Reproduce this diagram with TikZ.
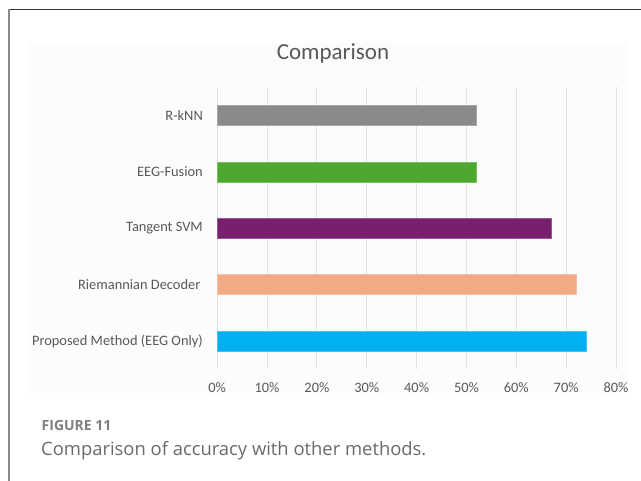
\documentclass[tikz,border=0pt]{standalone}
\usepackage{fontspec}
\setmainfont{Carlito}
\newfontfamily\capfont{Open Sans}
\definecolor{chartbg}{HTML}{FCFCFC}
\definecolor{gridc}{HTML}{E2E2E2}
\definecolor{txtc}{HTML}{595959}
\definecolor{capc}{HTML}{6A6A6A}
\definecolor{figc}{HTML}{7F7F7F}
\definecolor{topline}{HTML}{333333}
\definecolor{sideline}{HTML}{8A8A8A}
\definecolor{barGray}{HTML}{8A8A8A}
\definecolor{barGreen}{HTML}{4EA72E}
\definecolor{barPurple}{HTML}{78206E}
\definecolor{barPeach}{HTML}{F2AA84}
\definecolor{barBlue}{HTML}{00B0F0}
\tikzset{
  gridline/.style={draw=gridc, line width=1pt},
  ticklabel/.style={text=txtc, font=\fontsize{14.4}{16}\selectfont, inner sep=0pt},
  catlabel/.style={text=txtc, font=\fontsize{14.4}{16}\selectfont, inner sep=0pt, anchor=east},
  charttitle/.style={text=txtc, font=\fontsize{23}{26}\selectfont, inner sep=0pt},
  barbox/.style={minimum height=20pt, inner sep=0pt, outer sep=0pt, anchor=west, line width=0.7pt},
  figlabel/.style={text=figc, font=\capfont\bfseries\fontsize{14}{16}\selectfont, inner sep=0pt, anchor=base west},
  captext/.style={text=capc, font=\capfont\fontsize{18.4}{22}\selectfont, inner sep=0pt, anchor=base west},
}
\begin{document}
\begin{tikzpicture}[x=1pt, y=-1pt]
\useasboundingbox (0,0) rectangle (641,481);
\fill[white] (0,0) rectangle (641,481);
% frame lines
\draw[topline, line width=1.3pt] (8,9.3) -- (641,9.3);
\draw[sideline, line width=2pt] (8.7,9.3) -- (8.7,481);
% chart area
\fill[chartbg] (29,43) rectangle (628,393);
\node[charttitle] (title) at (333,53) {Comparison};
% vertical grid and axis labels
\foreach \i in {0,...,8} {
  \pgfmathsetmacro\gx{217.2+49.85*\i}
  \coordinate (g\i top) at (\gx,87);
  \coordinate (g\i bot) at (\gx,369);
  \draw[gridline] (g\i top) -- (g\i bot);
  \node[ticklabel] (tick\i) at (\gx,388) {\the\numexpr\i*10\relax\%};
}
% bars with category labels
\foreach \n/\lab/\val/\col/\lx [count=\k from 0] in {
  rknn/R-kNN/52/barGray/203,
  fusion/EEG-Fusion/52/barGreen/203,
  tsvm/Tangent SVM/67/barPurple/203,
  riem/Riemannian Decoder/72/barPeach/200.5,
  prop/Proposed Method (EEG Only)/74/barBlue/203} {
  \pgfmathsetmacro\yy{115.6+56.35*\k}
  \pgfmathsetmacro\ww{\val*4.985}
  \node[barbox, fill=\col, draw=\col!75!white, minimum width=\ww pt] (\n) at (217.2,\yy) {};
  \node[catlabel] (\n-label) at (\lx,\yy) {\lab};
}
% caption
\node[figlabel] (fig) at (41.5,431) {FIGURE 11};
\node[captext] (cap) at (41,456) {Comparison of accuracy with other methods.};
\end{tikzpicture}
\end{document}
